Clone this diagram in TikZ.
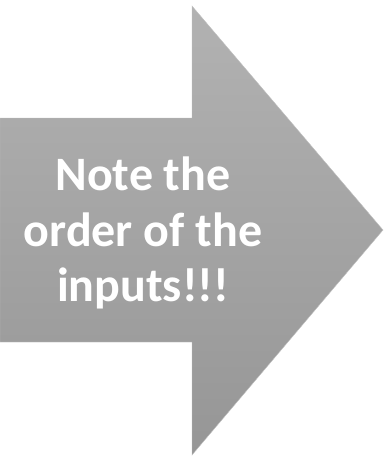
\documentclass[tikz,border=0pt]{standalone}
\usepackage{fontspec}
\setmainfont{Carlito}
\usepackage{tikz}
\usetikzlibrary{positioning}
\definecolor{arrowTop}{RGB}{178,178,178}
\definecolor{arrowBottom}{RGB}{150,150,150}
\tikzset{
  bigarrow/.style={top color=arrowTop, bottom color=arrowBottom,
                   draw=arrowTop!80!white, line width=0.4pt},
  notetext/.style={text=white, align=center,
                   font=\fontsize{48}{55.5}\selectfont\bfseries},
}
\begin{document}
\begin{tikzpicture}[x=1pt, y=-1pt]
  \useasboundingbox (0,0) rectangle (384,456);
  % ================= block arrow =================
  \shade[bigarrow] (0,118) -- (192,118) -- (192,6) -- (383,230)
    -- (192,455) -- (192,342) -- (0,342) -- cycle;
  % ================= label =================
  \node[notetext] (note) at (143,233) {Note the\\order of the\\inputs!!!};
\end{tikzpicture}
\end{document}
